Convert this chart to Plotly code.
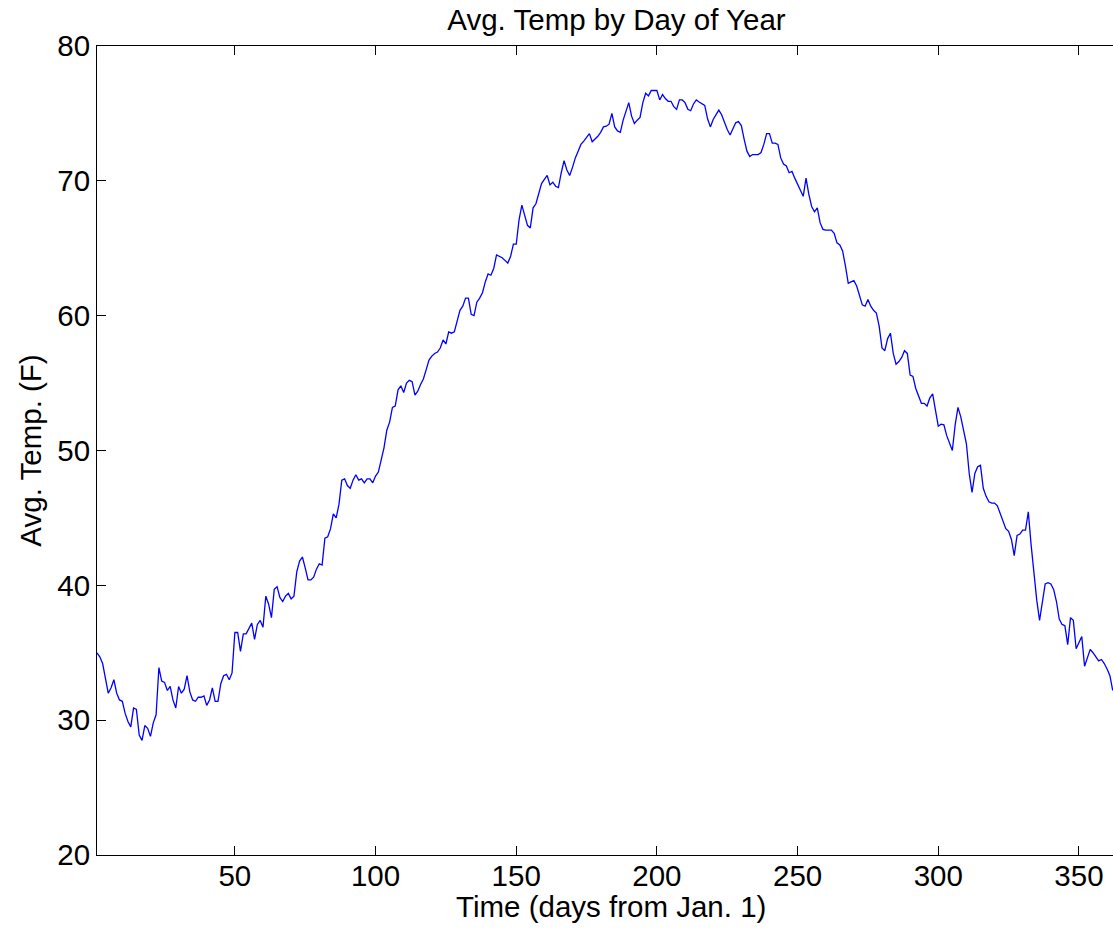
import plotly.graph_objects as go

# Daily average temperature (F), days 1..362
days = list(range(1, 363))
temps = [
    35.0, 34.7, 34.2, 33.2, 32.0, 32.4, 33.0, 32.0, 31.5, 31.4,   # 1-10
    30.5, 29.9, 29.5, 30.9, 30.8, 28.9, 28.5, 29.6, 29.4, 28.8,   # 11-20
    29.8, 30.4, 33.9, 32.9, 32.8, 32.2, 32.5, 31.5, 30.9, 32.5,   # 21-30
    32.0, 32.3, 33.3, 32.1, 31.5, 31.4, 31.7, 31.7, 31.8, 31.1,   # 31-40
    31.5, 32.4, 31.4, 31.4, 32.7, 33.3, 33.4, 33.0, 33.5, 36.5,   # 41-50
    36.5, 35.1, 36.4, 36.4, 36.8, 37.2, 36.0, 37.1, 37.4, 36.9,   # 51-60
    39.2, 38.6, 37.6, 39.7, 39.9, 39.1, 38.8, 39.2, 39.4, 39.0,   # 61-70
    39.2, 41.0, 41.8, 42.1, 41.3, 40.4, 40.4, 40.6, 41.2, 41.6,   # 71-80
    41.5, 43.5, 43.6, 44.2, 45.3, 45.0, 46.0, 47.8, 47.9, 47.4,   # 81-90
    47.2, 47.8, 48.2, 47.8, 47.9, 47.6, 47.9, 47.9, 47.6, 48.1,   # 91-100
    48.4, 49.4, 50.2, 51.5, 52.1, 53.2, 53.3, 54.5, 54.8, 54.3,   # 101-110
    55.0, 55.2, 55.1, 54.1, 54.4, 54.9, 55.3, 56.0, 56.7, 57.0,   # 111-120
    57.2, 57.3, 57.6, 58.2, 57.9, 58.8, 58.7, 58.8, 59.7, 60.4,   # 121-130
    60.7, 61.3, 61.3, 60.1, 60.0, 61.0, 61.3, 61.7, 62.5, 63.1,   # 131-140
    63.0, 63.5, 64.5, 64.4, 64.3, 64.1, 63.9, 64.4, 65.3, 65.3,   # 141-150
    67.1, 68.2, 67.4, 66.7, 66.5, 68.0, 68.3, 69.1, 69.8, 70.1,   # 151-160
    70.4, 69.7, 69.9, 69.6, 69.5, 70.6, 71.5, 70.8, 70.4, 71.0,   # 161-170
    71.7, 72.2, 72.7, 72.95, 73.2, 73.5, 72.9, 73.1, 73.3, 73.6,  # 171-180
    74.0, 74.05, 74.2, 75.0, 74.0, 73.7, 73.6, 74.5, 75.1, 75.8,  # 181-190
    74.8, 74.25, 74.5, 74.7, 75.8, 76.5, 76.3, 76.7, 76.7, 76.7,  # 191-200
    76.0, 76.4, 76.1, 75.9, 75.9, 75.5, 75.3, 76.0, 76.0, 75.8,   # 201-210
    75.3, 75.2, 75.7, 76.0, 75.85, 75.7, 75.6, 74.6, 74.0, 74.55, # 211-220
    74.95, 75.25, 74.9, 74.3, 73.8, 73.4, 73.8, 74.3, 74.4, 74.1, # 221-230
    73.1, 72.2, 71.8, 71.95, 71.95, 71.95, 72.1, 72.7, 73.5, 73.5, # 231-240
    72.8, 72.8, 72.7, 71.7, 71.25, 71.1, 70.6, 70.7, 70.2, 69.8,  # 241-250
    69.3, 68.85, 70.2, 69.0, 68.1, 67.7, 68.0, 66.9, 66.4, 66.35, # 251-260
    66.35, 66.35, 66.1, 65.4, 65.25, 64.8, 63.7, 62.4, 62.5, 62.6, # 261-270
    62.2, 61.4, 60.8, 60.7, 61.2, 60.7, 60.4, 60.2, 59.2, 57.6,   # 271-280
    57.4, 58.3, 58.7, 57.2, 56.4, 56.6, 56.9, 57.4, 57.2, 55.6,   # 281-290
    55.5, 54.6, 54.0, 53.5, 53.5, 53.3, 53.9, 54.2, 53.0, 51.8,   # 291-300
    51.95, 51.9, 51.1, 50.6, 50.0, 51.9, 53.2, 52.5, 51.6, 50.5,  # 301-310
    48.3, 46.9, 48.3, 48.8, 48.9, 47.2, 46.6, 46.2, 46.1, 46.1,   # 311-320
    45.9, 45.3, 44.8, 44.2, 44.0, 43.4, 42.2, 43.7, 43.8, 44.1,   # 321-330
    44.1, 45.45, 43.0, 40.8, 38.9, 37.4, 38.9, 40.1, 40.2, 40.1,  # 331-340
    39.7, 38.8, 37.5, 37.1, 37.0, 35.6, 37.6, 37.4, 35.3, 35.8,   # 341-350
    36.2, 34.0, 34.6, 35.25, 35.0, 34.7, 34.4, 34.5, 34.2, 33.8,  # 351-360
    33.3, 32.2,                                                   # 361-362
]

x_ticks = [50, 100, 150, 200, 250, 300, 350]
y_ticks = [20, 30, 40, 50, 60, 70, 80]

title_text = "Avg. Temp by Day of Year"
x_label = "Time (days from Jan. 1)"
y_label = "Avg. Temp. (F)"

FONT = "Liberation Sans, Arial, Helvetica, sans-serif"
FS = 29.5

fig = go.Figure()
fig.add_trace(go.Scatter(
    x=days, y=temps, mode="lines",
    line=dict(color="#0000ff", width=1.3),
    showlegend=False, hoverinfo="x+y",
))

fig.update_layout(
    width=1113, height=935,
    margin=dict(l=97, r=0, t=46, b=80, autoexpand=False),
    paper_bgcolor="white", plot_bgcolor="white",
    font=dict(family=FONT, size=FS, color="black"),
    title=dict(text=title_text, x=616.5 / 1113, xref="container", xanchor="center",
               y=1 - 20 / 935, yref="container", yanchor="middle",
               font=dict(family=FONT, size=FS, color="black")),
    showlegend=False,
)

fig.update_xaxes(
    range=[1, 362.1], tickmode="array", tickvals=x_ticks,
    ticks="inside", ticklen=9, tickwidth=1, tickcolor="black",
    ticklabelstandoff=-5,
    showline=True, linecolor="black", linewidth=1, mirror="ticks",
    showgrid=False, zeroline=False,
    tickfont=dict(family=FONT, size=FS, color="black"),
)
fig.update_yaxes(
    range=[20, 80], tickmode="array", tickvals=y_ticks,
    ticks="inside", ticklen=9, tickwidth=1, tickcolor="black",
    showline=True, linecolor="black", linewidth=1, mirror=False,
    showgrid=False, zeroline=False,
    tickfont=dict(family=FONT, size=FS, color="black"),
    title=dict(text=y_label, font=dict(family=FONT, size=FS, color="black"), standoff=6),
)

fig.add_annotation(
    text=x_label, xref="paper", yref="paper",
    x=(610.5 - 97) / 1016, y=0, xanchor="center", yanchor="top",
    yshift=-33, showarrow=False,
    font=dict(family=FONT, size=FS, color="black"),
)

fig.write_html("out.html")
